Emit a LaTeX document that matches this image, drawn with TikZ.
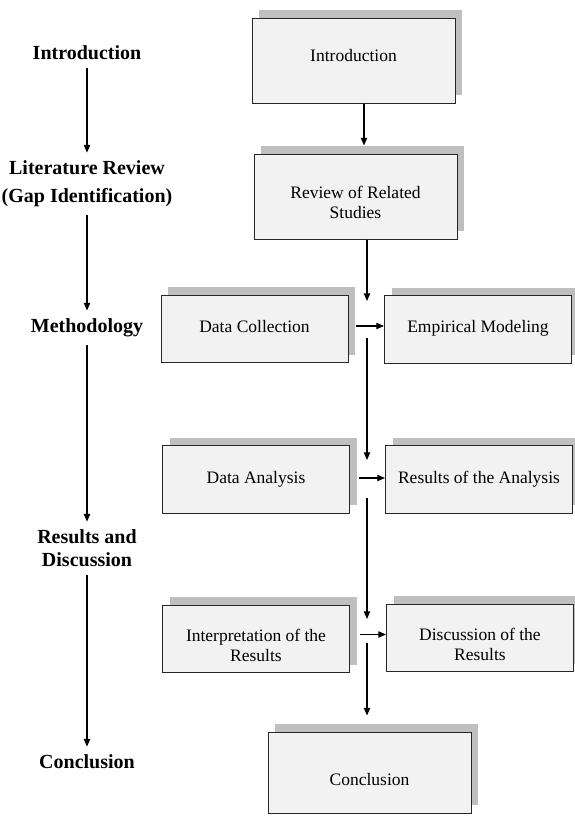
\documentclass[tikz,border=0pt]{standalone}
\usepackage{fontspec}
\setmainfont{Liberation Serif}
\usetikzlibrary{shadows,arrows.meta,calc}
\definecolor{boxfill}{HTML}{F2F2F2}
\definecolor{shadowgray}{HTML}{BFBFBF}
\definecolor{lineclr}{HTML}{262626}
\newcommand\liftone[2]{\raisebox{#1}[\height][\depth]{#2}}
\newcommand\lifttwo[2]{\raisebox{#1}[\height][\depth]{\begin{tabular}{@{}c@{}}#2\end{tabular}}}
\begin{document}
\begin{tikzpicture}[x=0.6pt,y=-0.6pt,
  stepbox/.style={draw=lineclr, line width=0.6pt, fill=boxfill, inner sep=0pt, align=center,
    font=\fontsize{10.5}{12}\selectfont,
    general shadow={fill=shadowgray, shadow xshift=4.2pt, shadow yshift=4.8pt}},
  bigbox/.style={stepbox, minimum width=121.8pt, minimum height=51pt},
  smallbox/.style={stepbox, minimum width=112.2pt, minimum height=40.5pt},
  phase/.style={inner sep=0pt, align=center, font=\bfseries\fontsize{12}{13.8}\selectfont},
  arr/.style={-{Triangle[length=4.6pt,width=3.8pt]}, line width=0.65pt, draw=black},
  parr/.style={arr, shorten <=4.8pt, shorten >=4.8pt}
]
\useasboundingbox (0,0) rectangle (574,816);

% right column boxes
\node[bigbox] (intro) at (353.5,60.5) {\liftone{3pt}{Introduction}};
\node[bigbox] (review) at (355.5,196.5) {\lifttwo{-4.8pt}{Review of Related\\Studies}};
\node[smallbox] (dc) at (254.5,329) {\liftone{1.2pt}{Data Collection}};
\node[smallbox] (em) at (478,329.5) {\liftone{0.6pt}{Empirical Modeling}};
\node[smallbox] (da) at (256,479.5) {Data Analysis};
\node[smallbox] (ra) at (479,479.5) {Results of the Analysis};
\node[smallbox] (ir) at (256,639) {\lifttwo{-4.8pt}{Interpretation of the\\Results}};
\node[smallbox] (dr) at (480,638) {\lifttwo{-5pt}{Discussion of the\\Results}};
\node[bigbox, minimum height=48.6pt] (concl) at (369.5,772.5) {\liftone{-4.2pt}{Conclusion}};

% spine coordinates
\coordinate (c1) at (364,0);
\coordinate (sp) at (367,0);
\coordinate (t1) at (367,301);
\coordinate (t2) at (367,338);
\coordinate (t3) at (367,460);
\coordinate (t4) at (367,498);
\coordinate (t5) at (367,619);
\coordinate (t6) at (367,643);

\draw[arr, shorten >=4.8pt] (c1 |- intro.south) -- (c1 |- review.north);
\draw[arr] (sp |- review.south) -- (t1);
\draw[arr] ([shift={(7,-3)}]dc.east) -- ([shift={(0,-3.5)}]em.west);
\draw[arr] (t2) -- (t3);
\draw[arr] ([shift={(9,-1.5)}]da.east) -- ([shift={(0,-1.5)}]ra.west);
\draw[arr] (t4) -- (t5);
\draw[arr] ([shift={(10,-4.5)}]ir.east) -- ([shift={(0,-3.5)}]dr.west);
\draw[arr, shorten >=9.6pt] (t6) -- (sp |- concl.north);

% left column phases
\node[phase] (p1) at (87,53) {Introduction};
\node[phase, font=\bfseries\fontsize{12}{16.8}\selectfont] (p2) at (87,184) {Literature Review\\(Gap Identification)};
\node[phase] (p3) at (87,328) {Methodology};
\node[phase] (p4) at (87,548.5) {Results and\\Discussion};
\node[phase] (p5) at (87,762) {Conclusion};

\draw[parr] (p1) -- (p2);
\draw[parr] (p2) -- (p3);
\draw[parr] (p3) -- (p4);
\draw[parr] (p4) -- (p5);
\end{tikzpicture}
\end{document}
